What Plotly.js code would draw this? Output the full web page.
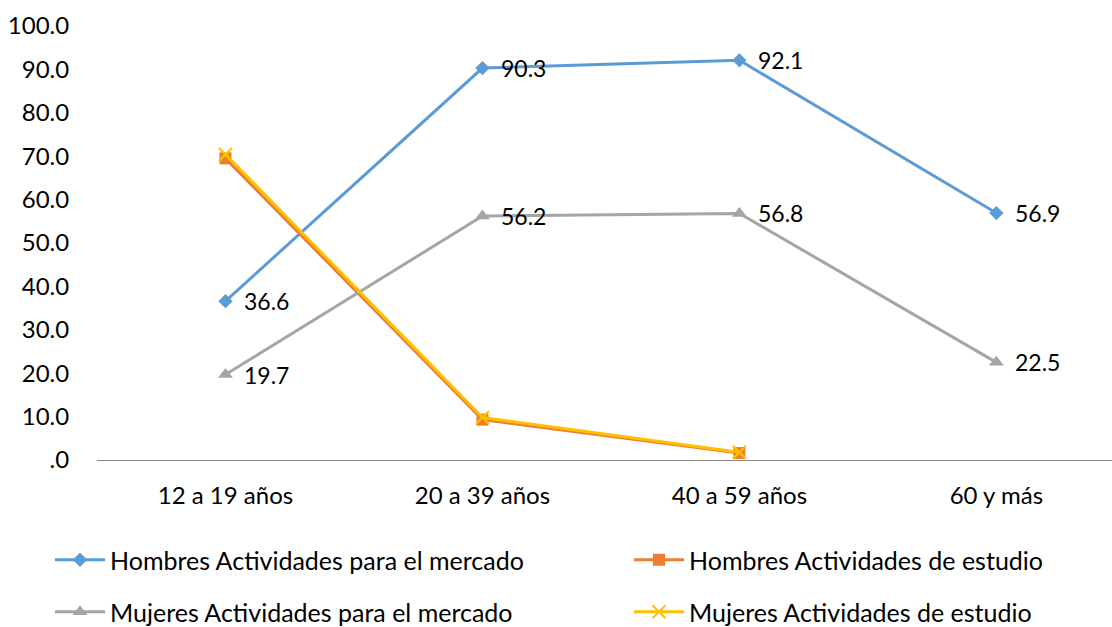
<!DOCTYPE html>
<html>
<head>
<meta charset="utf-8">
<script src="https://cdn.plot.ly/plotly-3.0.1.min.js"></script>
<style>html,body{margin:0;padding:0;background:#fff;}#chart{width:1112px;height:627px;}</style>
</head>
<body>
<div id="chart"></div>
<script>
const categories = ["12 a 19 años", "20 a 39 años", "40 a 59 años", "60 y más"];
const hombresMercado = [36.6, 90.3, 92.1, 56.9];
const hombresEstudio = [69.5, 9.3, 1.6, null];
const mujeresMercado = [19.7, 56.2, 56.8, 22.5];
const mujeresEstudio = [70.4, 9.8, 1.8, null];
const yTickValues = [0, 10, 20, 30, 40, 50, 60, 70, 80, 90, 100];
const yTickLabels = [".0", "10.0", "20.0", "30.0", "40.0", "50.0", "60.0", "70.0", "80.0", "90.0", "100.0"];
const seriesNames = ["Hombres Actividades para el mercado", "Hombres Actividades de estudio", "Mujeres Actividades para el mercado", "Mujeres Actividades de estudio"];

const FONT = "Lato, 'Open Sans', sans-serif";
const FS = 24;
const fmt = v => v == null ? "" : v.toFixed(1);

const traces = [
  {
    x: categories, y: hombresMercado, name: seriesNames[0], type: "scatter", mode: "lines+markers",
    line: {color: "#5B9BD5", width: 3}, marker: {symbol: "diamond", size: 11, color: "#5B9BD5"},
    legend: "legend", cliponaxis: false
  },
  {
    x: categories, y: hombresEstudio, name: seriesNames[1], type: "scatter", mode: "lines+markers",
    line: {color: "#ED7D31", width: 3}, marker: {symbol: "square", size: 12, color: "#ED7D31"},
    legend: "legend2", cliponaxis: false
  },
  {
    x: categories, y: mujeresMercado, name: seriesNames[2], type: "scatter", mode: "lines+markers",
    line: {color: "#A5A5A5", width: 3}, marker: {symbol: "triangle-up", size: 13, color: "#A5A5A5"},
    legend: "legend3", cliponaxis: false
  },
  {
    x: categories, y: mujeresEstudio, name: seriesNames[3], type: "scatter", mode: "lines+markers",
    line: {color: "#FFC000", width: 3},
    marker: {symbol: "x-thin", size: 13, color: "#FFC000", line: {color: "#FFC000", width: 2}},
    legend: "legend4", cliponaxis: false
  }
];

const annotations = [];
[hombresMercado, mujeresMercado].forEach(series => {
  series.forEach((v, i) => {
    if (v == null) return;
    annotations.push({
      x: categories[i], y: v, xref: "x", yref: "y", text: fmt(v), showarrow: false,
      xanchor: "left", yanchor: "middle", xshift: 17,
      font: {family: FONT, size: 23, color: "#000"}
    });
  });
});

const legendCommon = {
  orientation: "h", xref: "container", yref: "container", xanchor: "left", yanchor: "middle",
  font: {family: FONT, size: 25, color: "#000"},
  bgcolor: "rgba(0,0,0,0)", itemwidth: 50
};
const col1 = 50 / 1112, col2 = 629 / 1112, row1 = 1 - 560 / 627, row2 = 1 - 612 / 627;

const layout = {
  width: 1112, height: 627,
  margin: {l: 97, r: 0, t: 26, b: 167},
  paper_bgcolor: "#fff", plot_bgcolor: "#fff",
  font: {family: FONT, size: FS, color: "#000"},
  showlegend: true,
  annotations: annotations,
  xaxis: {
    type: "category", range: [-0.5, 3.45], showgrid: false, zeroline: false,
    showline: true, linecolor: "#868686", linewidth: 1,
    ticks: "outside", ticklen: 14, tickcolor: "rgba(0,0,0,0)",
    tickfont: {family: FONT, size: FS, color: "#000"}, fixedrange: true
  },
  yaxis: {
    range: [0, 100], showgrid: false, zeroline: false, showline: false,
    tickvals: yTickValues, ticktext: yTickLabels,
    ticks: "outside", ticklen: 22, tickcolor: "rgba(0,0,0,0)",
    tickfont: {family: FONT, size: FS, color: "#000"}, fixedrange: true
  },
  legend: Object.assign({}, legendCommon, {x: col1, y: row1}),
  legend2: Object.assign({}, legendCommon, {x: col2, y: row1}),
  legend3: Object.assign({}, legendCommon, {x: col1, y: row2}),
  legend4: Object.assign({}, legendCommon, {x: col2, y: row2})
};

Plotly.newPlot("chart", traces, layout, {displayModeBar: false, staticPlot: true});
</script>
</body>
</html>
